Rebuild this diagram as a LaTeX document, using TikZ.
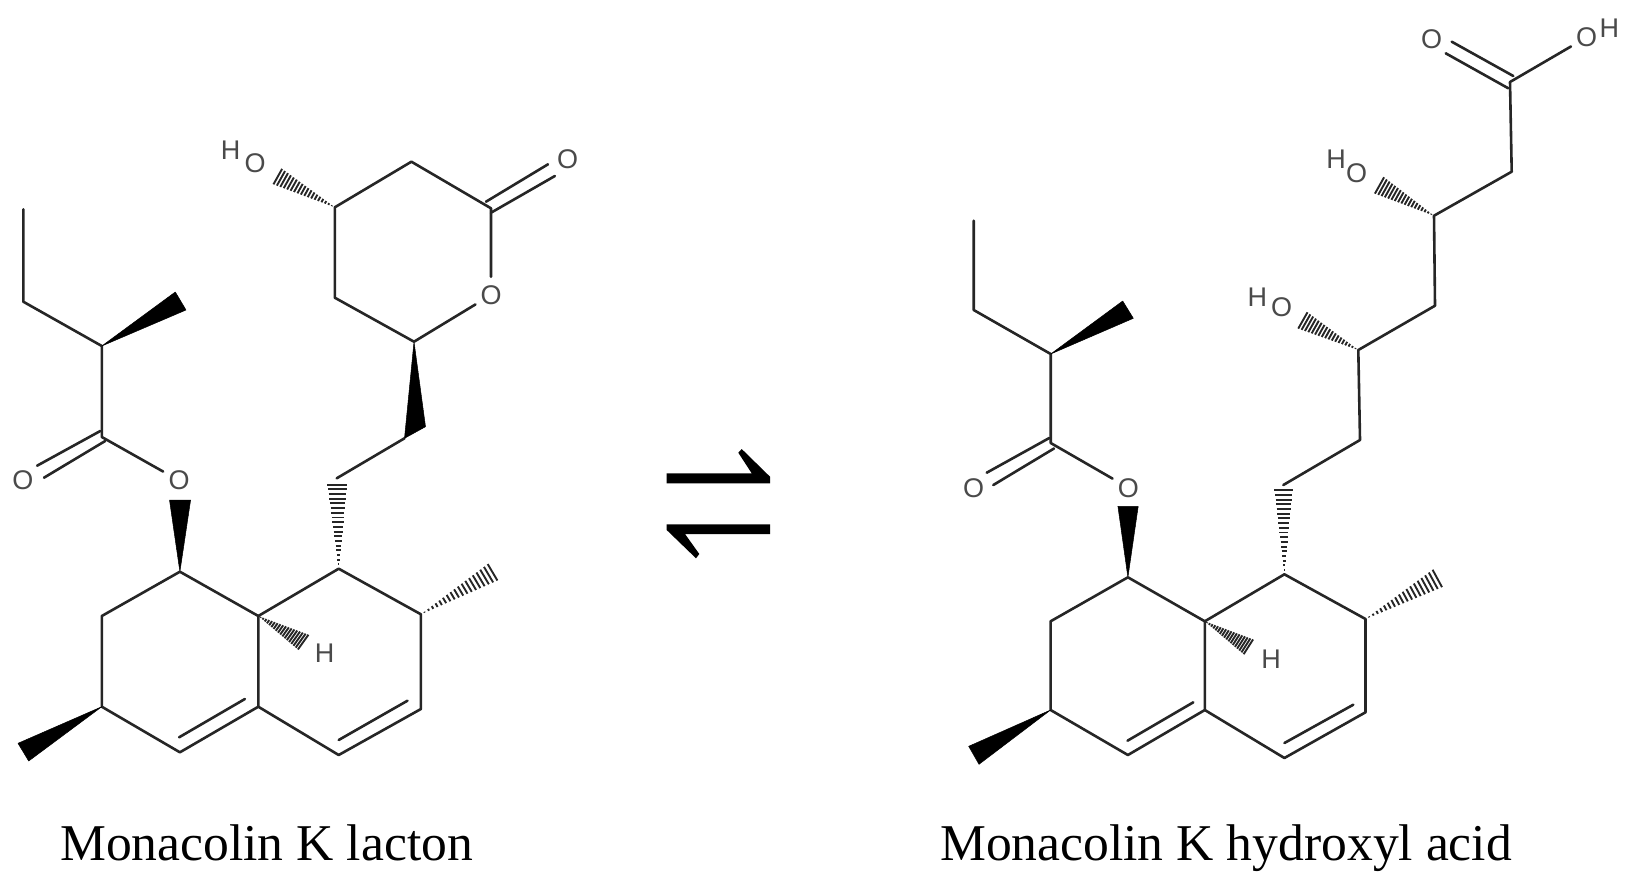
\documentclass[tikz,border=0pt]{standalone}
\usepackage{fontspec}
\setmainfont{Liberation Serif}
\newfontfamily\atomfont{Liberation Sans}
\usetikzlibrary{calc}
\definecolor{bondc}{HTML}{262626}
\definecolor{atomc}{HTML}{4A4A4A}
\tikzset{
  bond/.style={draw=bondc,line width=2.6pt,line cap=round,line join=round},
  atomo/.style={circle,inner sep=0pt,minimum size=36pt,text=atomc,font=\atomfont\fontsize{27}{27}\selectfont},
  atomh/.style={inner sep=0pt,text=atomc,font=\atomfont\fontsize{27}{27}\selectfont},
  wedgeb/.style={fill=black,draw=black,line width=0.5pt,line join=round},
  harpoon/.style={fill=black},
  caption/.style={anchor=base west,inner sep=0pt,text=black,font=\fontsize{51.6}{60}\selectfont}
}
\newcommand{\hashbond}[3]{%
  \foreach \t in {0.05,0.105,...,1.0}{
    \draw[draw=bondc,line width=1.9pt] ($(#1)!\t!(#2)$) -- ($(#1)!\t!(#3)$);
  }%
}
\begin{document}
\begin{tikzpicture}[x=1pt,y=-1pt]
\useasboundingbox (0,0) rectangle (1635,889);

% ---------- LEFT MOLECULE ----------
\coordinate (la1) at (23.3,209.3);
\coordinate (la2) at (23.3,301.7);
\coordinate (la3) at (101.8,346);
\coordinate (lw1a) at (175.3,292);
\coordinate (lw1b) at (186,310);
\coordinate (lcc) at (101.8,437);
\node[atomo] (lo1) at (23,480) {O};
\node[atomo] (lo2) at (179,480.5) {O};
\coordinate (ld1a) at (37.1,465.7);
\coordinate (ld1b) at (100.3,431);
\coordinate (ld2a) at (44,477.7);
\coordinate (ld2b) at (105.2,441);
\coordinate (lw2a) at (169.5,500);
\coordinate (lw2b) at (190.6,500);
\coordinate (lc1) at (179.9,571.7);
\coordinate (lc2) at (101.8,616);
\coordinate (lc3) at (101.8,706.7);
\coordinate (lw3a) at (18,743.3);
\coordinate (lw3b) at (28.7,761);
\coordinate (lc4) at (179.9,752.3);
\coordinate (lc5) at (258.3,706.7);
\coordinate (lc6) at (258.3,616);
\coordinate (li1a) at (179.1,737.3);
\coordinate (li1b) at (244.9,699);
\coordinate (lc7) at (338.7,755);
\coordinate (lc8) at (420.9,709);
\coordinate (li2a) at (338.7,740);
\coordinate (li2b) at (407.5,700.7);
\coordinate (lc9) at (420.9,614.3);
\coordinate (lc10) at (338.7,568.7);
\coordinate (lh9a) at (488.7,563.3);
\coordinate (lh9b) at (498.6,580);
\coordinate (lh6a) at (309.2,635);
\coordinate (lh6b) at (298.5,650);
\node[atomh] (lh) at (324.5,653.3) {H};
\coordinate (lh10a) at (327.2,483.3);
\coordinate (lh10b) at (347.5,483.3);
\coordinate (lch1) at (336.7,478.3);
\coordinate (lch2) at (404.5,438.3);
\coordinate (lch2b) at (425.5,426.7);
\coordinate (lr1) at (414,341.7);
\node[atomo] (lo3) at (491,295) {O};
\coordinate (lr2) at (491,208.3);
\coordinate (lr3) at (411.4,161.7);
\coordinate (lr4) at (334.8,207.3);
\coordinate (lr5) at (334.8,297.7);
\node[atomo] (lo4) at (567.5,159.3) {O};
\coordinate (ld3a) at (486,201.7);
\coordinate (ld3b) at (548,164.3);
\coordinate (ld4a) at (491,212.7);
\coordinate (ld4b) at (554.9,176);
\coordinate (lh4a) at (281.3,168.3);
\coordinate (lh4b) at (272.5,184);
\node[atomh] (lo5) at (255.2,163.3) {O};
\node[atomh] (lh5) at (230.7,150) {H};

\draw[bond] (la1) -- (la2) -- (la3) -- (lcc) -- (lo2);
\draw[bond] (ld1a) -- (ld1b);
\draw[bond] (ld2a) -- (ld2b);
\fill[wedgeb] (la3) -- (lw1a) -- (lw1b) -- cycle;
\fill[wedgeb] (lc1) -- (lw2a) -- (lw2b) -- cycle;
\draw[bond] (lc1) -- (lc2) -- (lc3) -- (lc4) -- (lc5) -- (lc6) -- (lc1);
\draw[bond] (lc6) -- (lc10) -- (lc9) -- (lc8) -- (lc7) -- (lc5);
\draw[bond] (li1a) -- (li1b);
\draw[bond] (li2a) -- (li2b);
\fill[wedgeb] (lc3) -- (lw3a) -- (lw3b) -- cycle;
\hashbond{lc9}{lh9a}{lh9b}
\hashbond{lc6}{lh6a}{lh6b}
\hashbond{lc10}{lh10a}{lh10b}
\draw[bond] (lch1) -- (lch2);
\fill[wedgeb] (lr1) -- (lch2) -- (lch2b) -- cycle;
\draw[bond] (lr1) -- (lo3) -- (lr2) -- (lr3) -- (lr4) -- (lr5) -- (lr1);
\draw[bond] (ld3a) -- (ld3b);
\draw[bond] (ld4a) -- (ld4b);
\hashbond{lr4}{lh4a}{lh4b}

% ---------- EQUILIBRIUM ARROWS ----------
\fill[harpoon] (666.7,473.3) -- (751.7,473.3) -- (738.3,452.7) -- (741.7,449) -- (770,476.7) -- (770,483.3) -- (666.7,483.3) -- cycle;
\fill[harpoon] (666.7,524.3) -- (770,524.3) -- (770,534) -- (685,534) -- (699.3,554) -- (696,558.3) -- (666.7,530) -- cycle;

% ---------- RIGHT MOLECULE ----------
\coordinate (ra1) at (973.7,220.7);
\coordinate (ra2) at (973.7,310);
\coordinate (ra3) at (1050.7,354);
\coordinate (rw1a) at (1122.7,301);
\coordinate (rw1b) at (1133.3,318.3);
\coordinate (rcc) at (1050.7,443);
\node[atomo] (ro1) at (973.7,487.7) {O};
\node[atomo] (ro2) at (1128.3,487.7) {O};
\coordinate (rd1a) at (986.7,472.7);
\coordinate (rd1b) at (1049.3,438);
\coordinate (rd2a) at (993.3,485);
\coordinate (rd2b) at (1054,448.5);
\coordinate (rw2a) at (1117.9,506.3);
\coordinate (rw2b) at (1138.2,506.3);
\coordinate (rc1) at (1127.9,577.3);
\coordinate (rc2) at (1050.6,621.3);
\coordinate (rc3) at (1050.6,710);
\coordinate (rw3a) at (968.7,746.3);
\coordinate (rw3b) at (979,764.3);
\coordinate (rc4) at (1127.9,755);
\coordinate (rc5) at (1204.8,710);
\coordinate (rc6) at (1204.8,621.3);
\coordinate (ri1a) at (1127.5,740.7);
\coordinate (ri1b) at (1193.3,702.3);
\coordinate (rc7) at (1284.4,758);
\coordinate (rc8) at (1365.5,712.3);
\coordinate (ri2a) at (1284.4,743);
\coordinate (ri2b) at (1353.3,704.7);
\coordinate (rc9) at (1365.5,619);
\coordinate (rc10) at (1284.4,574.3);
\coordinate (rh9a) at (1433.6,569);
\coordinate (rh9b) at (1443.2,586.7);
\coordinate (rh6a) at (1253.8,639.7);
\coordinate (rh6b) at (1244.2,654.7);
\node[atomh] (rh) at (1271,659) {H};
\coordinate (rh10a) at (1274.3,489);
\coordinate (rh10b) at (1292.7,489);
\coordinate (rch1) at (1283.3,485);
\coordinate (rch2) at (1360,440);
\coordinate (rch3) at (1358.3,350);
\coordinate (rch4) at (1435,305.7);
\coordinate (rch5) at (1434,215.7);
\coordinate (rch6) at (1511.7,171.7);
\coordinate (rch7) at (1510,82);
\coordinate (rh3a) at (1306.7,311.7);
\coordinate (rh3b) at (1297.3,328.3);
\node[atomh] (ro3) at (1281.7,307.3) {O};
\node[atomh] (rh3) at (1257.3,297) {H};
\coordinate (rh5a) at (1383.3,176.7);
\coordinate (rh5b) at (1374,193.3);
\node[atomh] (ro5) at (1356.7,173.3) {O};
\node[atomh] (rh5) at (1336,159) {H};
\coordinate (rd3a) at (1451.7,41.7);
\coordinate (rd3b) at (1513.3,76);
\coordinate (rd4a) at (1445.7,53.3);
\coordinate (rd4b) at (1508.3,88.3);
\node[atomh] (ro6) at (1431.7,39.3) {O};
\node[atomo] (ro7) at (1586.7,37.3) {O};
\node[atomh] (rh7) at (1609.3,28) {H};

\draw[bond] (ra1) -- (ra2) -- (ra3) -- (rcc) -- (ro2);
\draw[bond] (rd1a) -- (rd1b);
\draw[bond] (rd2a) -- (rd2b);
\fill[wedgeb] (ra3) -- (rw1a) -- (rw1b) -- cycle;
\fill[wedgeb] (rc1) -- (rw2a) -- (rw2b) -- cycle;
\draw[bond] (rc1) -- (rc2) -- (rc3) -- (rc4) -- (rc5) -- (rc6) -- (rc1);
\draw[bond] (rc6) -- (rc10) -- (rc9) -- (rc8) -- (rc7) -- (rc5);
\draw[bond] (ri1a) -- (ri1b);
\draw[bond] (ri2a) -- (ri2b);
\fill[wedgeb] (rc3) -- (rw3a) -- (rw3b) -- cycle;
\hashbond{rc9}{rh9a}{rh9b}
\hashbond{rc6}{rh6a}{rh6b}
\hashbond{rc10}{rh10a}{rh10b}
\draw[bond] (rch1) -- (rch2) -- (rch3) -- (rch4) -- (rch5) -- (rch6) -- (rch7) -- (ro7);
\draw[bond] (rd3a) -- (rd3b);
\draw[bond] (rd4a) -- (rd4b);
\hashbond{rch3}{rh3a}{rh3b}
\hashbond{rch5}{rh5a}{rh5b}

% ---------- CAPTIONS ----------
\node[caption] (capl) at (60,860) {Monacolin K lacton};
\node[caption] (capr) at (940,860.5) {Monacolin K hydroxyl acid};
\end{tikzpicture}
\end{document}
